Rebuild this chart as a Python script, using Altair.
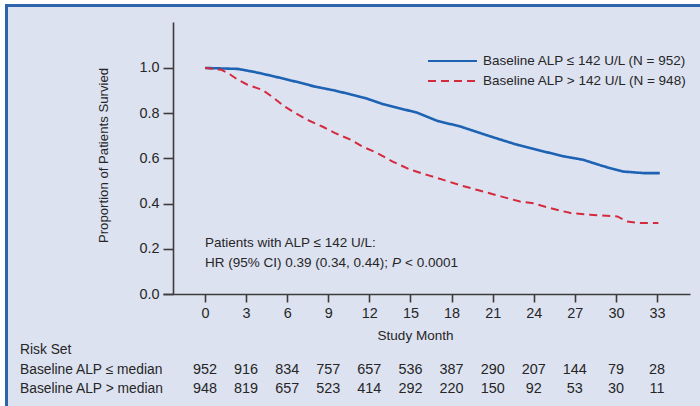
import altair as alt
import pandas as pd

FONT = "Liberation Sans"
TEXT = "#262626"
AXIS = "#3c3c3c"
BLUE = "#1d62b3"
RED = "#d42a3d"
PANEL = "#dde2f1"
FRAME = "#2b63ad"
FS = 13.5
FS_NUM = 14.4

# Kaplan-Meier estimates, ALP <= 142 U/L
low_month = [0, 2.4, 3.65, 5.1, 6.6, 8.0, 9.5, 10.7, 11.7, 13.0, 15.5, 17.0,
             18.6, 20.8, 22.8, 24.3, 26.2, 27.6, 29.1, 30.5, 32.0, 33.2]
low_surv = [1.0, 0.996, 0.982, 0.962, 0.94, 0.918, 0.900, 0.882, 0.867, 0.84,
            0.802, 0.765, 0.742, 0.698, 0.66, 0.637, 0.609, 0.594, 0.565,
            0.542, 0.535, 0.535]

# Kaplan-Meier estimates, ALP > 142 U/L
high_month = [0, 1.2, 1.7, 2.4, 3.1, 4.2, 4.9, 5.8, 6.6, 7.5, 8.6, 9.5, 10.7,
              11.5, 12.6, 13.7, 15.0, 16.2, 17.4, 18.6, 19.9, 21.6, 23.0,
              24.0, 25.2, 26.7, 28.1, 30.1, 30.8, 31.6, 33.1]
high_surv = [1.0, 0.992, 0.977, 0.948, 0.926, 0.903, 0.873, 0.83, 0.80, 0.77,
             0.74, 0.712, 0.681, 0.652, 0.623, 0.586, 0.55, 0.527, 0.505,
             0.482, 0.46, 0.432, 0.409, 0.401, 0.38, 0.358, 0.351, 0.343,
             0.321, 0.314, 0.314]

groups = ["Baseline ALP \u2264 142 U/L (N = 952)",
          "Baseline ALP > 142 U/L (N = 948)"]

# Numbers at risk
risk_months = [0, 3, 6, 9, 12, 15, 18, 21, 24, 27, 30, 33]
risk_low = [952, 916, 834, 757, 657, 536, 387, 290, 207, 144, 79, 28]
risk_high = [948, 819, 657, 523, 414, 292, 220, 150, 92, 53, 30, 11]
risk_rows = ["Baseline ALP \u2264 median", "Baseline ALP > median"]

curves = pd.concat([
    pd.DataFrame({"month": low_month, "surv": low_surv, "group": groups[0], "order": range(len(low_month))}),
    pd.DataFrame({"month": high_month, "surv": high_surv, "group": groups[1], "order": range(len(high_month))}),
])

x_scale = alt.Scale(domain=[-3.066, 35.41], nice=False, zero=False)
y_scale = alt.Scale(domain=[0, 1.2035], nice=False)
color_scale = alt.Scale(domain=groups, range=[BLUE, RED])
dash_scale = alt.Scale(domain=groups, range=[[1, 0], [8, 5]])
width_scale = alt.Scale(domain=groups, range=[2.6, 2.0])

one = pd.DataFrame({"k": [0]})

# Page frame: white outer margin on top/left, blue border lines
frame = [
    alt.Chart(one).mark_rule(stroke="white", strokeWidth=10).encode(
        x=alt.value(-168), x2=alt.value(600), y=alt.value(-22), y2=alt.value(-22)),
    alt.Chart(one).mark_rule(stroke="white", strokeWidth=10).encode(
        x=alt.value(-163), x2=alt.value(-163), y=alt.value(-30), y2=alt.value(420)),
    alt.Chart(one).mark_rule(stroke=FRAME, strokeWidth=3).encode(
        x=alt.value(-158), x2=alt.value(600), y=alt.value(-16.5), y2=alt.value(-16.5)),
    alt.Chart(one).mark_rule(stroke=FRAME, strokeWidth=3).encode(
        x=alt.value(-156.5), x2=alt.value(-156.5), y=alt.value(-18), y2=alt.value(420)),
]

lines = alt.Chart(curves).mark_line().encode(
    x=alt.X("month:Q", scale=x_scale,
            axis=alt.Axis(values=risk_months, title="Study Month",
                          titleX=252, titleY=41, titleBaseline="middle",
                          titleAlign="center",
                          tickSize=8, labelPadding=4)),
    y=alt.Y("surv:Q", scale=y_scale,
            axis=alt.Axis(values=[0, 0.2, 0.4, 0.6, 0.8, 1.0], format=".1f",
                          title="Proportion of Patients Survied", offset=-10,
                          tickSize=10, labelPadding=4,
                          titleX=-70, titleY=133, titleAngle=-90,
                          titleBaseline="middle", titleAlign="center",
                          titleFontSize=13.2)),
    color=alt.Color("group:N", scale=color_scale, legend=None),
    strokeDash=alt.StrokeDash("group:N", scale=dash_scale, legend=None),
    strokeWidth=alt.StrokeWidth("group:N", scale=width_scale, legend=None),
    order="order:Q",
)

# Legend drawn as sample lines plus labels in the upper right
legend_df = pd.DataFrame({"group": groups, "row": [0, 1]})
legend_lines = [
    alt.Chart(legend_df.iloc[[i]]).mark_rule(strokeWidth=2).encode(
        x=alt.value(265), x2=alt.value(314), y=alt.value(39 + 20 * i),
        color=alt.Color("group:N", scale=color_scale, legend=None),
        strokeDash=alt.StrokeDash("group:N", scale=dash_scale, legend=None),
    )
    for i in range(2)
]
legend_text = [
    alt.Chart(legend_df.iloc[[i]]).mark_text(
        align="left", baseline="middle", font=FONT, fontSize=FS, color=TEXT
    ).encode(x=alt.value(320), y=alt.value(39 + 20 * i), text="group:N")
    for i in range(2)
]

note_df = pd.DataFrame({
    "month": [0, 0],
    "surv": [0.227, 0.138],
    "txt": ["Patients with ALP \u2264 142 U/L:", "HR (95% CI) 0.39 (0.34, 0.44);"],
})
notes = alt.Chart(note_df).mark_text(
    align="left", baseline="middle", font=FONT, fontSize=FS, color=TEXT
).encode(x=alt.X("month:Q", scale=x_scale),
         y=alt.Y("surv:Q", scale=y_scale), text="txt:N")

p_df = pd.DataFrame({"month": [0], "surv": [0.138], "txt": ["P"]})
p_italic = alt.Chart(p_df).mark_text(
    align="left", baseline="middle", font=FONT, fontSize=FS, fontStyle="italic",
    color=TEXT, dx=187
).encode(x=alt.X("month:Q", scale=x_scale),
         y=alt.Y("surv:Q", scale=y_scale), text="txt:N")

p_df2 = pd.DataFrame({"month": [0], "surv": [0.138], "txt": ["< 0.0001"]})
p_rest = alt.Chart(p_df2).mark_text(
    align="left", baseline="middle", font=FONT, fontSize=FS, color=TEXT, dx=200
).encode(x=alt.X("month:Q", scale=x_scale),
         y=alt.Y("surv:Q", scale=y_scale), text="txt:N")

risk_df_low = pd.DataFrame({"month": risk_months, "n": [str(v) for v in risk_low]})
risk_df_high = pd.DataFrame({"month": risk_months, "n": [str(v) for v in risk_high]})


def risk_numbers(df, ypix):
    return alt.Chart(df).mark_text(
        align="center", baseline="middle", font=FONT, fontSize=FS_NUM, color=TEXT
    ).encode(x=alt.X("month:Q", scale=x_scale), y=alt.value(ypix), text="n:N")


def row_label(txt, ypix):
    return alt.Chart(pd.DataFrame({"txt": [txt]})).mark_text(
        align="left", baseline="middle", font=FONT, fontSize=13.8, color=TEXT
    ).encode(x=alt.value(-143), y=alt.value(ypix), text="txt:N")


chart = alt.layer(
    lines, *frame, *legend_lines, *legend_text, notes, p_italic, p_rest,
    risk_numbers(risk_df_low, 348), risk_numbers(risk_df_high, 367),
    row_label("Risk Set", 328), row_label(risk_rows[0], 348), row_label(risk_rows[1], 367),
).properties(
    width=527, height=272,
    autosize=alt.AutoSizeParams(type="none"),
    padding={"left": 163, "top": 22, "right": 10, "bottom": 112},
    background=PANEL,
).configure_view(
    stroke=None
).configure_axis(
    grid=False, domainColor=AXIS, domainWidth=1.6, tickColor=AXIS, tickWidth=1.6,
    labelFont=FONT, labelFontSize=FS_NUM, labelColor=TEXT,
    titleFont=FONT, titleFontSize=FS, titleColor=TEXT, titleFontWeight="normal",
)

chart.save("out.html", embed_options={"renderer": "svg", "actions": False})
